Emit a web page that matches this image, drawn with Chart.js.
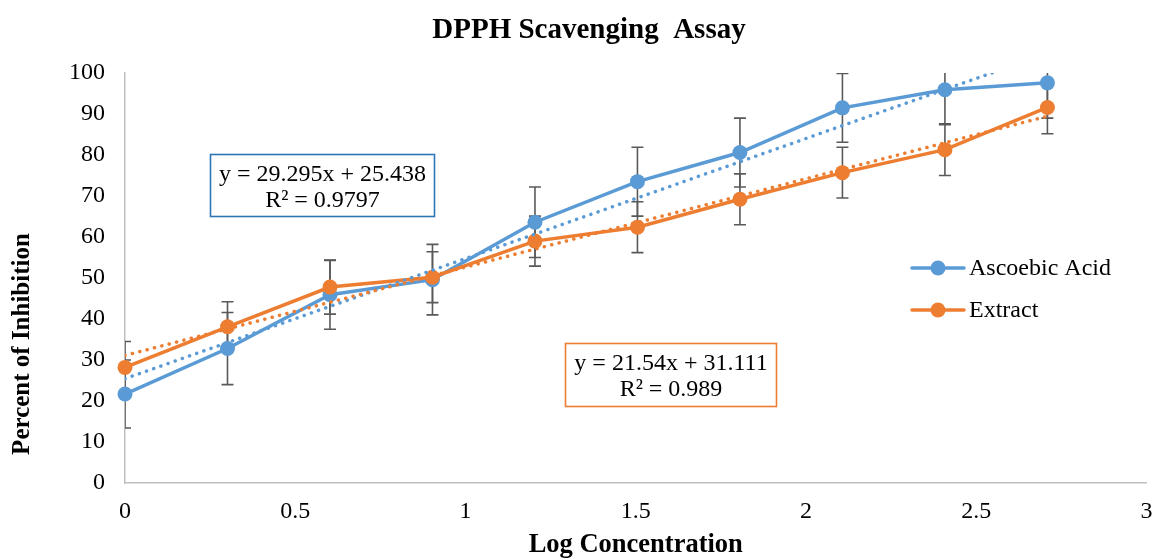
<!DOCTYPE html>
<html>
<head>
<meta charset="utf-8">
<script src="https://cdn.jsdelivr.net/npm/chart.js@4/dist/chart.umd.min.js"></script>
<style>
  html, body { margin: 0; padding: 0; background: #fff; }
  #wrap { width: 1154px; height: 558px; }
</style>
</head>
<body>
<div id="wrap"><canvas id="chart"></canvas></div>
<script>
const logConc = [0, 0.301, 0.602, 0.903, 1.204, 1.505, 1.806, 2.107, 2.408, 2.709]
const ascorbic = [21.7, 32.8, 45.9, 49.6, 63.6, 73.5, 80.6, 91.5, 95.9, 97.6]
const ascorbicErr = [8.3, 8.8, 8.4, 8.6, 8.6, 8.4, 8.4, 8.4, 8.5, 8.6]
const extract = [28.2, 38.1, 47.8, 50.2, 59.0, 62.4, 69.2, 75.7, 81.3, 91.6]
const extractErr = [6.3, 6.1, 6.6, 6.2, 6.1, 6.2, 6.2, 6.2, 6.3, 6.4]
const ascorbicFit = [29.295, 25.438]   // slope, intercept
const extractFit = [21.54, 31.111]
const xTicks = [0, 0.5, 1, 1.5, 2, 2.5, 3]
const yTicks = [0, 10, 20, 30, 40, 50, 60, 70, 80, 90, 100]

const BLUE = '#5b9bd5'
const ORANGE = '#ed7d31'
const SERIF = '"Liberation Serif", "Times New Roman", serif'

const pts = (ys) => logConc.map((x, i) => ({ x: x, y: ys[i] }))
const fitLine = (f) => [logConc[0], logConc[logConc.length - 1]].map(x => ({ x: x, y: f[0] * x + f[1] }))

const series = (label, ys, color, order) => ({
  label: label, data: pts(ys), borderColor: color, backgroundColor: color,
  borderWidth: 3.5, pointRadius: 7.5, pointHoverRadius: 7.5, pointBorderWidth: 0,
  pointBackgroundColor: color, tension: 0, clip: false, order: order
})
const trend = (f, color, order) => ({
  label: 'trend', data: fitLine(f), borderColor: color, borderWidth: 3.5,
  borderDash: [0.1, 7.5], borderCapStyle: 'round', pointRadius: 0, order: order
})

// error bars, annotation boxes, legend and titles
const extras = {
  id: 'extras',
  beforeDatasetsDraw(chart) {
    const { ctx, chartArea: a, scales: { x, y } } = chart
    ctx.save()
    ctx.beginPath(); ctx.rect(a.left, a.top, a.right - a.left, a.bottom - a.top); ctx.clip()
    ctx.strokeStyle = '#595959'; ctx.lineWidth = 1.6
    const bars = (ys, errs) => logConc.forEach((v, i) => {
      const px = x.getPixelForValue(v)
      const hi = y.getPixelForValue(ys[i] + errs[i]), lo = y.getPixelForValue(ys[i] - errs[i])
      ctx.beginPath()
      ctx.moveTo(px, hi); ctx.lineTo(px, lo)
      ctx.moveTo(px - 6, hi); ctx.lineTo(px + 6, hi)
      ctx.moveTo(px - 6, lo); ctx.lineTo(px + 6, lo)
      ctx.stroke()
    })
    bars(ascorbic, ascorbicErr)
    bars(extract, extractErr)
    ctx.restore()
  },
  afterDraw(chart) {
    const { ctx } = chart
    ctx.save()
    ctx.fillStyle = '#000'
    ctx.textAlign = 'center'; ctx.textBaseline = 'middle'
    ctx.font = 'bold 29px ' + SERIF
    ctx.fillText('DPPH Scavenging  Assay', 589, 31)

    ctx.save()
    ctx.translate(23, 344); ctx.rotate(-Math.PI / 2)
    ctx.font = 'bold 25px ' + SERIF
    ctx.fillText('Percent of Inhibition', 0, 0)
    ctx.restore()

    const box = (x0, y0, w, h, color, l1, l2) => {
      ctx.fillStyle = '#fff'; ctx.fillRect(x0, y0, w, h)
      ctx.strokeStyle = color; ctx.lineWidth = 1.6; ctx.strokeRect(x0, y0, w, h)
      ctx.fillStyle = '#000'; ctx.font = '24px ' + SERIF
      ctx.fillText(l1, x0 + w / 2, y0 + 20)
      ctx.fillText(l2, x0 + w / 2, y0 + 46)
    }
    box(210.5, 154.5, 224, 62, '#2e75b6', 'y = ' + ascorbicFit[0] + 'x + ' + ascorbicFit[1], 'R\u00b2 = 0.9797')
    box(565.5, 343.5, 211, 63, ORANGE, 'y = ' + extractFit[0] + 'x + ' + extractFit[1], 'R\u00b2 = 0.989')

    const legendItem = (yy, color, text) => {
      ctx.strokeStyle = color; ctx.lineWidth = 3.5; ctx.lineCap = 'round'
      ctx.beginPath(); ctx.moveTo(912, yy); ctx.lineTo(964, yy); ctx.stroke()
      ctx.fillStyle = color; ctx.beginPath(); ctx.arc(938, yy, 7.5, 0, Math.PI * 2); ctx.fill()
      ctx.fillStyle = '#000'; ctx.textAlign = 'left'; ctx.font = '24px ' + SERIF
      ctx.fillText(text, 969, yy + 1)
    }
    legendItem(268, BLUE, 'Ascoebic Acid')
    legendItem(310, ORANGE, 'Extract')
    ctx.restore()
  }
}

new Chart(document.getElementById('chart'), {
  type: 'line',
  data: {
    datasets: [
      series('Ascoebic Acid', ascorbic, BLUE, 4),
      series('Extract', extract, ORANGE, 3),
      trend(ascorbicFit, BLUE, 2),
      trend(extractFit, ORANGE, 1)
    ]
  },
  options: {
    responsive: true, maintainAspectRatio: false, animation: false,
    layout: { padding: { top: 73, right: 7, left: 0, bottom: 0 } },
    plugins: { legend: { display: false }, title: { display: false }, tooltip: { enabled: false } },
    scales: {
      x: {
        type: 'linear', min: 0, max: 3,
        afterBuildTicks: (s) => { s.ticks = xTicks.map(v => ({ value: v })) },
        ticks: { color: '#000', font: { family: SERIF, size: 24 }, padding: 14, maxRotation: 0, callback: (v) => String(v) },
        grid: { display: false, drawTicks: false },
        border: { color: '#bfbfbf', width: 1.5 },
        title: { display: true, text: 'Log Concentration', color: '#000', font: { family: SERIF, size: 26.5, weight: 'bold', lineHeight: 1 }, padding: { top: 4, bottom: 0 } },
        afterFit: (s) => { s.height = 75; s.paddingLeft = 0; s.paddingRight = 0 }
      },
      y: {
        min: 0, max: 100,
        afterBuildTicks: (s) => { s.ticks = yTicks.map(v => ({ value: v })) },
        ticks: { color: '#000', font: { family: SERIF, size: 24 }, padding: 20 },
        grid: { display: false, drawTicks: false },
        border: { color: '#bfbfbf', width: 1.5 },
        afterFit: (s) => { s.width = 125 }
      }
    }
  },
  plugins: [extras]
})
</script>
</body>
</html>
